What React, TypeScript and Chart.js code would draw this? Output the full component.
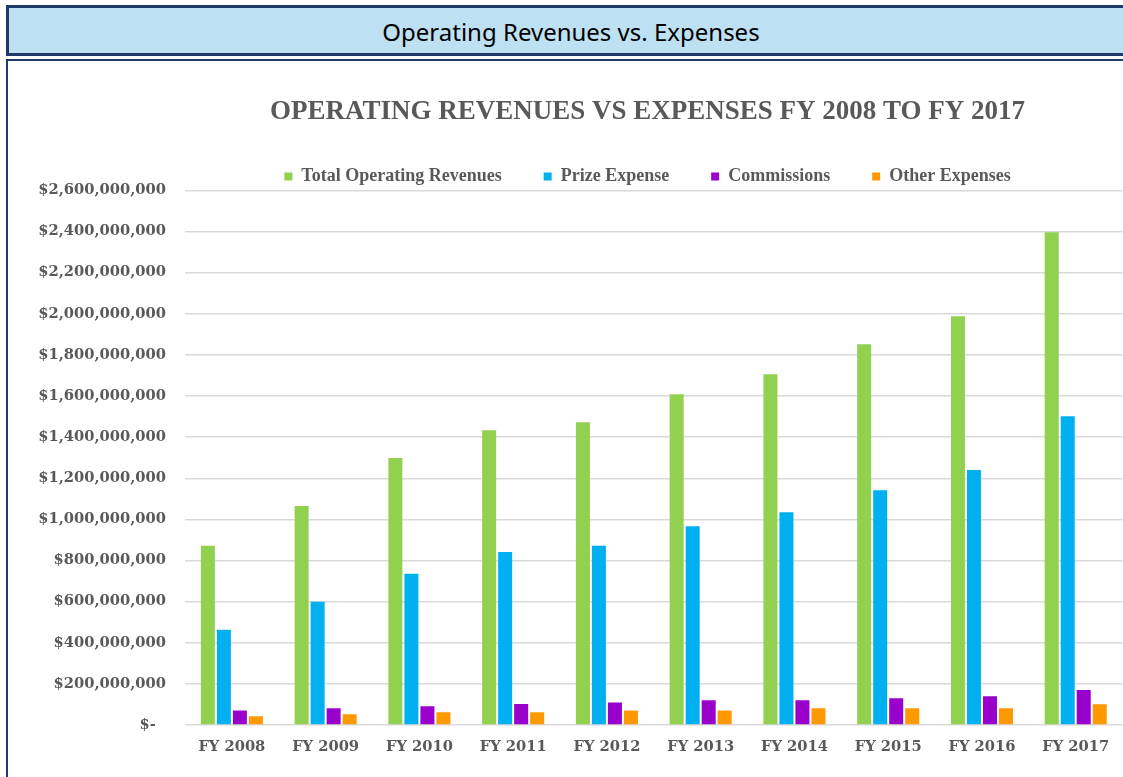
import React, { useEffect, useRef } from "react";
import { Chart, registerables } from "chart.js";

Chart.register(...registerables);

const categories = [
  "FY 2008",
  "FY 2009",
  "FY 2010",
  "FY 2011",
  "FY 2012",
  "FY 2013",
  "FY 2014",
  "FY 2015",
  "FY 2016",
  "FY 2017",
];

const seriesNames = [
  "Total Operating Revenues",
  "Prize Expense",
  "Commissions",
  "Other Expenses",
];

const totalOperatingRevenues = [
  872e6, 1065e6, 1298e6, 1434e6, 1473e6, 1609e6, 1706e6, 1852e6, 1988e6, 2396e6,
];
const prizeExpense = [
  463e6, 600e6, 736e6, 841e6, 872e6, 967e6, 1035e6, 1142e6, 1240e6, 1502e6,
];
const commissions = [
  71e6, 81e6, 91e6, 102e6, 110e6, 120e6, 120e6, 130e6, 140e6, 170e6,
];
const otherExpenses = [
  42e6, 52e6, 62e6, 62e6, 71e6, 71e6, 81e6, 81e6, 81e6, 101e6,
];

const yMin = 0;
const yMax = 2600000000;
const yStep = 200000000;

const headerTitle = "Operating Revenues vs. Expenses";
const chartTitle = "OPERATING REVENUES VS EXPENSES FY 2008 TO FY 2017";

const colors = ["#92D050", "#00B0F0", "#9900CC", "#FF9900"];
const NAVY = "#1F3A68";
const TEXT_GRAY = "#595959";

function formatDollar(v: number): string {
  if (v === 0) return "$-  ";
  return "$" + Math.round(v).toString().replace(/\B(?=(\d{3})+(?!\d))/g, ",");
}

function BarChart() {
  const ref = useRef<HTMLCanvasElement>(null);
  useEffect(() => {
    if (!ref.current) return;
    const tickFont = {
      family: "'DejaVu Serif', serif",
      size: 14.7,
      weight: "bold" as const,
    };
    const series = [totalOperatingRevenues, prizeExpense, commissions, otherExpenses];
    const chart = new Chart(ref.current, {
      type: "bar",
      data: {
        labels: categories,
        datasets: series.map((d, i) => ({
          label: seriesNames[i],
          data: d,
          backgroundColor: colors[i],
          borderWidth: 0,
          yAxisID: "y",
          categoryPercentage: 0.683,
          barPercentage: 0.875,
        })),
      },
      options: {
        responsive: false,
        animation: false,
        layout: { padding: 0 },
        plugins: {
          title: {
            display: true,
            text: chartTitle,
            color: TEXT_GRAY,
            font: { family: "'Liberation Serif', serif", size: 27, weight: "bold" },
            padding: { top: 35, bottom: -3 },
          },
          legend: {
            display: true,
            position: "top",
            maxHeight: 65,
            labels: {
              boxWidth: 8,
              boxHeight: 8,
              padding: 42,
              color: TEXT_GRAY,
              font: { family: "'Liberation Serif', serif", size: 18, weight: "bold" },
            },
          },
          tooltip: { enabled: false },
        },
        scales: {
          x: {
            grid: { display: false },
            border: { display: false },
            ticks: { color: TEXT_GRAY, font: tickFont, padding: 5, maxRotation: 0 },
            afterFit: (s: any) => {
              s.height = 52;
            },
          },
          y: {
            position: "left",
            min: yMin,
            max: yMax,
            ticks: {
              stepSize: yStep,
              color: TEXT_GRAY,
              font: tickFont,
              padding: 19,
              callback: (v: any) => formatDollar(Number(v)),
            },
            grid: { color: "#D9D9D9", lineWidth: 1.5, drawTicks: false },
            border: { display: false },
            afterFit: (s: any) => {
              s.width = 177;
            },
          },
          yPad: {
            type: "linear",
            position: "right",
            display: true,
            grid: { display: false, drawTicks: false },
            border: { display: false },
            ticks: { display: false },
            afterFit: (s: any) => {
              s.width = 164.4;
            },
          },
        },
      } as any,
    });
    return () => chart.destroy();
  }, []);
  return (
    <canvas
      ref={ref}
      width={1279}
      height={716}
      style={{ position: "absolute", left: 8, top: 61, width: 1279, height: 716 }}
    />
  );
}

export default function App() {
  return (
    <div
      style={{
        position: "fixed",
        left: 0,
        top: 0,
        width: 1123,
        height: 777,
        overflow: "hidden",
        background: "#FFFFFF",
      }}
    >
      <div
        style={{
          position: "absolute",
          left: 6,
          top: 5,
          width: 1200,
          height: 51,
          boxSizing: "border-box",
          border: `3px solid ${NAVY}`,
          background: "#BDE0F3",
        }}
      />
      <div
        style={{
          position: "absolute",
          left: 0,
          top: 9,
          width: 1142,
          height: 45,
          lineHeight: "45px",
          textAlign: "center",
          fontFamily: "'Noto Sans', sans-serif",
          fontSize: 24,
          color: "#000000",
          whiteSpace: "nowrap",
        }}
      >
        {headerTitle}
      </div>
      <div
        style={{
          position: "absolute",
          left: 6,
          top: 59,
          width: 1300,
          height: 900,
          boxSizing: "border-box",
          border: `2px solid ${NAVY}`,
        }}
      />
      <BarChart />
    </div>
  );
}
